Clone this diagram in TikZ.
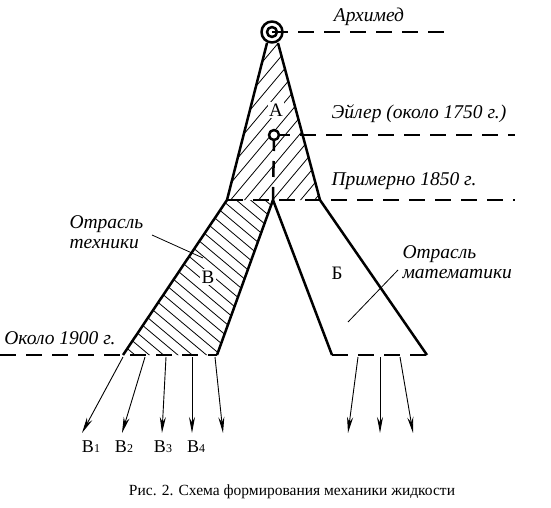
\documentclass[tikz,border=0pt]{standalone}
\usepackage{fontspec}
\setmainfont{Liberation Serif}
\usetikzlibrary{arrows.meta}

\begin{document}
\begin{tikzpicture}[x=1pt,y=-1pt,>={Stealth[length=16pt,width=6pt]},
	edge/.style={line width=2.5pt,line join=round},
	epoch/.style={line width=2.5pt,dash pattern=on 16pt off 10pt},
	hatch/.style={line width=0.8pt},
	branch/.style={->,line width=0.9pt},
	leader/.style={line width=0.8pt},
	period/.style={font=\fontsize{19.5}{20}\selectfont\itshape},
	zone/.style={font=\fontsize{19}{20}\selectfont,fill=white,inner sep=1.5pt}]
	\useasboundingbox (0,0) rectangle (551,508);

	%points of the scheme
	\coordinate (arch) at (272,32);		%Archimedes
	\coordinate (euler) at (274,135);	%Euler
	\coordinate (aTL) at (267,43);
	\coordinate (aTR) at (278,43);
	\coordinate (aL) at (227,200);
	\coordinate (aR) at (320,200);
	\coordinate (j) at (273,200);		%fork
	\coordinate (bL) at (123,355);
	\coordinate (bR) at (217,355);
	\coordinate (gL) at (332,355);
	\coordinate (gR) at (427,355);
	\coordinate (archEnd) at (445,32);
	\coordinate (eulerEnd) at (515,135);
	\coordinate (midEnd) at (515,200);
	\coordinate (lowEnd) at (0,355);

	%hatching
	\begin{scope}
		\clip (aTL) -- (aTR) -- (aR) -- (aL) -- cycle;
		\foreach \x in {120,134,...,334}
			\draw[hatch] (\x,215) -- ++(150,-178.8);
	\end{scope}
	\begin{scope}
		\clip (aL) -- (j) -- (bR) -- (bL) -- cycle;
		\foreach \x in {-70,-55.7,...,280}
			\draw[hatch] (\x,195) -- ++(200,167.8);
	\end{scope}

	%time lines
	\draw[epoch] (arch) -- (archEnd);
	\draw[epoch] (euler) -- (eulerEnd);
	\draw[epoch] (euler) -- (j);
	\draw[epoch] (aL) -- (midEnd);
	\draw[epoch] (lowEnd) -- (bR);
	\draw[epoch] (gL) -- (gR);

	%outlines
	\draw[edge] (arch) circle (10.5);
	\draw[edge] (arch) circle (5);
	\draw[edge,fill=white] (euler) circle (5);
	\draw[edge] (aTL) -- (aL);
	\draw[edge] (aTR) -- (aR);
	\draw[edge] (aL) -- (bL);
	\draw[edge] (j) -- (bR);
	\draw[edge] (j) -- (gL);
	\draw[edge] (aR) -- (gR);

	%outlets
	\foreach \s/\e [count=\i] in {123/82,145/122,166/162,192/192,215/223,358/348,380/380,400/413}{
		\coordinate (s\i) at (\s,357);
		\coordinate (e\i) at (\e,433);
		\draw[branch] (s\i) -- (e\i);
	}

	%labels
	\node[period] (archLbl) at (369,17) {Архимед};
	\node[period] (eulerLbl) at (419,114) {Эйлер (около 1750 г.)};
	\node[period] (midLbl) at (404,181) {Примерно 1850 г.};
	\node[period] (lowLbl) at (60,338) {Около 1900 г.};
	\node[period,align=left,anchor=west] (techLbl) at (66,232) {Отрасль\\техники};
	\node[period,align=left,anchor=west] (mathLbl) at (399,262) {Отрасль\\математики};
	\coordinate (techA) at (152,235);
	\coordinate (techB) at (203,258);
	\coordinate (mathA) at (398,270);
	\coordinate (mathB) at (348,322);
	\draw[leader] (techA) -- (techB);
	\draw[leader] (mathA) -- (mathB);
	\node[zone] (zoneA) at (276,110) {А};
	\node[zone] (zoneB) at (208,277) {В};
	\node[zone] (zoneG) at (337,273) {Б};
	\foreach \x [count=\i] in {91,124,163,196}
		\node[font=\fontsize{18}{20}\selectfont] (v\i) at (\x,447) {В{\fontsize{12}{12}\selectfont\i}};
	\node[font=\fontsize{15.5}{18}\selectfont] (caption) at (292,492) {Рис. 2. Схема формирования механики жидкости};
\end{tikzpicture}
\end{document}
